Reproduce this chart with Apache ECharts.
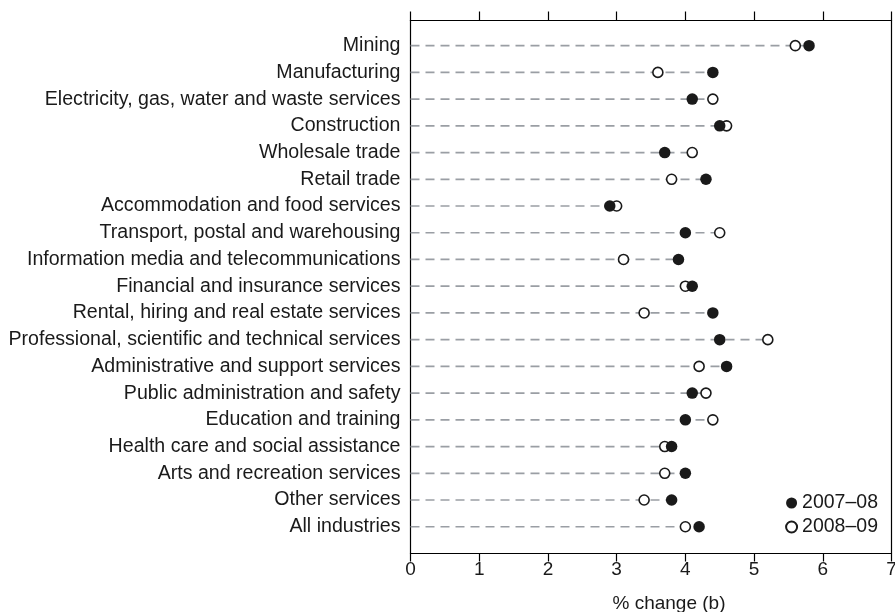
<!DOCTYPE html>
<html>
<head>
<meta charset="utf-8">
<title>Labour productivity by industry</title>
<script src="https://cdn.jsdelivr.net/npm/echarts@6/dist/echarts.min.js"></script>
<style>
  html, body { margin: 0; padding: 0; background: #fff; }
  #chart { width: 895px; height: 612px; }
</style>
</head>
<body>
<div id="chart"></div>
<script>
// Industries, top to bottom
const industries = [
  'Mining',
  'Manufacturing',
  'Electricity, gas, water and waste services',
  'Construction',
  'Wholesale trade',
  'Retail trade',
  'Accommodation and food services',
  'Transport, postal and warehousing',
  'Information media and telecommunications',
  'Financial and insurance services',
  'Rental, hiring and real estate services',
  'Professional, scientific and technical services',
  'Administrative and support services',
  'Public administration and safety',
  'Education and training',
  'Health care and social assistance',
  'Arts and recreation services',
  'Other services',
  'All industries'
];

// % change, 2007–08 (filled dots)
const values0708 = [5.8, 4.4, 4.1, 4.5, 3.7, 4.3, 2.9, 4.0, 3.9, 4.1, 4.4, 4.5, 4.6, 4.1, 4.0, 3.8, 4.0, 3.8, 4.2];
// % change, 2008–09 (open circles)
const values0809 = [5.6, 3.6, 4.4, 4.6, 4.1, 3.8, 3.0, 4.5, 3.1, 4.0, 3.4, 5.2, 4.2, 4.3, 4.4, 3.7, 3.7, 3.4, 4.0];

const xTicks = [0, 1, 2, 3, 4, 5, 6, 7];
const seriesNames = ['2007–08', '2008–09'];

const FONT = '"Liberation Sans", Arial, sans-serif';
const INK = '#1a1a1a';
const FRAME_LINE = { color: '#000', width: 1.2 };

// Each dashed leader runs from zero to the larger of the two values
const leaders = industries.map((name, i) => [Math.max(values0708[i], values0809[i]), name]);

const chart = echarts.init(document.getElementById('chart'), null, { renderer: 'canvas' });

const frame = { left: 410.5, right: 3.5, top: 20.5, bottom: 58.5, outerBoundsMode: 'none', containLabel: false };
const rows = { left: 410.5, right: 3.5, top: 32.3, bottom: 71.9, outerBoundsMode: 'none', containLabel: false };

chart.setOption({
  animation: false,
  backgroundColor: '#fff',
  textStyle: { fontFamily: FONT },
  grid: [frame, rows],
  legend: {
    orient: 'vertical',
    right: 17,
    top: 493,
    padding: 0,
    itemGap: 4,
    itemWidth: 11,
    itemHeight: 11,
    itemTextGap: 8,
    textStyle: { fontFamily: FONT, fontSize: 19.5, color: INK },
    data: [
      { name: seriesNames[0], icon: 'circle' },
      { name: seriesNames[1], icon: 'circle' }
    ]
  },
  xAxis: [
    {
      gridIndex: 0, type: 'value', position: 'bottom',
      min: xTicks[0], max: xTicks[xTicks.length - 1], interval: 1,
      axisLine: { show: true, onZero: false, lineStyle: FRAME_LINE },
      axisTick: { show: true, inside: false, length: 8, lineStyle: FRAME_LINE },
      axisLabel: { show: true, fontFamily: FONT, fontSize: 19, color: INK, margin: 7 },
      splitLine: { show: false },
      name: '% change (b)',
      nameLocation: 'middle',
      nameGap: 41,
      nameTextStyle: { fontFamily: FONT, fontSize: 19, color: INK, padding: [0, 0, 0, 36] }
    },
    {
      gridIndex: 0, type: 'value', position: 'top',
      min: xTicks[0], max: xTicks[xTicks.length - 1], interval: 1,
      axisLine: { show: true, onZero: false, lineStyle: FRAME_LINE },
      axisTick: { show: true, inside: false, length: 9, lineStyle: FRAME_LINE },
      axisLabel: { show: false },
      splitLine: { show: false }
    },
    {
      gridIndex: 1, type: 'value', show: false,
      min: xTicks[0], max: xTicks[xTicks.length - 1]
    }
  ],
  yAxis: [
    {
      gridIndex: 0, type: 'value', position: 'left', min: 0, max: 1,
      axisLine: { show: true, onZero: false, lineStyle: FRAME_LINE },
      axisTick: { show: false }, axisLabel: { show: false }, splitLine: { show: false }
    },
    {
      gridIndex: 1, type: 'category', inverse: true, data: industries,
      boundaryGap: true,
      axisLine: { show: false },
      axisTick: { show: false },
      splitLine: { show: false },
      axisLabel: { fontFamily: FONT, fontSize: 19.6, color: INK, margin: 10, interval: 0 }
    },
    {
      gridIndex: 0, type: 'value', position: 'right', min: 0, max: 1,
      axisLine: { show: true, onZero: false, lineStyle: FRAME_LINE },
      axisTick: { show: false }, axisLabel: { show: false }, splitLine: { show: false }
    }
  ],
  series: [
    {
      name: 'leaders',
      type: 'custom',
      xAxisIndex: 2, yAxisIndex: 1,
      silent: true,
      z: 1,
      data: leaders,
      encode: { x: 0, y: 1 },
      renderItem: function (params, api) {
        const end = api.coord([api.value(0), api.value(1)]);
        const start = api.coord([0, api.value(1)]);
        return {
          type: 'line',
          shape: { x1: start[0], y1: start[1], x2: end[0], y2: end[1] },
          style: { stroke: '#9a9ea4', lineWidth: 1.7, lineDash: [9, 6] }
        };
      }
    },
    {
      name: seriesNames[1],
      type: 'scatter',
      xAxisIndex: 2, yAxisIndex: 1,
      z: 3,
      symbol: 'circle',
      symbolSize: 10,
      itemStyle: { color: '#fff', borderColor: INK, borderWidth: 1.6, opacity: 1 },
      data: values0809.map((v, i) => [v, industries[i]])
    },
    {
      name: seriesNames[0],
      type: 'scatter',
      xAxisIndex: 2, yAxisIndex: 1,
      z: 4,
      symbol: 'circle',
      symbolSize: 11.5,
      itemStyle: { color: INK, opacity: 1 },
      data: values0708.map((v, i) => [v, industries[i]])
    }
  ]
});
</script>
</body>
</html>
